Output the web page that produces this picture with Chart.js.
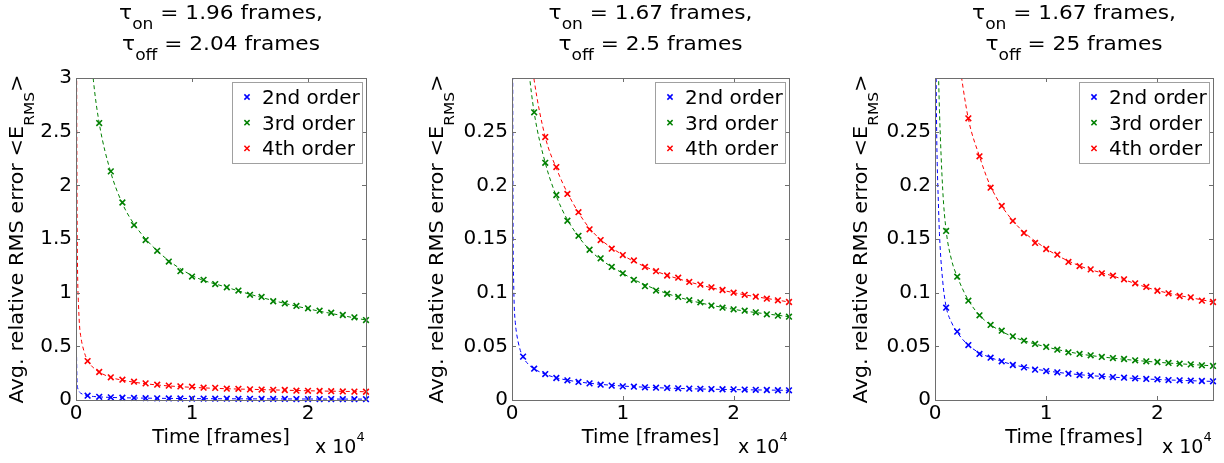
<!DOCTYPE html>
<html>
<head>
<meta charset="utf-8">
<script src="https://cdn.jsdelivr.net/npm/chart.js@4.4.1/dist/chart.umd.min.js"></script>
<style>
  html, body { margin: 0; padding: 0; background: #fff; }
  #wrap { position: relative; width: 1224px; height: 463px; overflow: hidden; }
  canvas { position: absolute; top: 0; }
</style>
</head>
<body>
<div id="wrap">
  <canvas id="c1" width="408" height="463" style="left:0px;width:408px;height:463px"></canvas>
  <canvas id="c2" width="420" height="463" style="left:408px;width:420px;height:463px"></canvas>
  <canvas id="c3" width="396" height="463" style="left:828px;width:396px;height:463px"></canvas>
</div>
<script>
const FONT = '"DejaVu Sans", sans-serif';
const colors = ['#0000ff', '#008000', '#ff0000'];

// sample times of the measured errors
const frames = [1000, 2000, 3000, 4000, 5000, 6000, 7000, 8000, 9000, 10000,
  11000, 12000, 13000, 14000, 15000, 16000, 17000, 18000, 19000, 20000,
  21000, 22000, 23000, 24000, 25000];
const fitFrames = [50, 70, 100, 150, 200, 300, 400, 700, 1000, 1500, 2000,
  3000, 4000, 5000, 7000, 10000, 13000, 16000, 20000, 25000];

const seriesNames = ['2nd order', '3rd order', '4th order'];
const tauOn = ['1.96', '1.67', '1.67'];
const tauOff = ['2.04', '2.5', '25'];

const xTickValues = [0, 10000, 20000];
const xTickLabels = ['0', '1', '2'];
const yTicksBig = [0, 0.5, 1, 1.5, 2, 2.5, 3];
const yLabelsBig = ['0', '0.5', '1', '1.5', '2', '2.5', '3'];
const yTicksSmall = [0, 0.05, 0.1, 0.15, 0.2, 0.25];
const yLabelsSmall = ['0', '0.05', '0.1', '0.15', '0.2', '0.25'];

// panel 1 : tau_on 1.96, tau_off 2.04
const blue1 = [0.040, 0.030, 0.025, 0.021, 0.019, 0.017, 0.016, 0.015, 0.014, 0.013, 0.013, 0.012, 0.012,
  0.011, 0.011, 0.010, 0.010, 0.010, 0.009, 0.009, 0.009, 0.009, 0.008, 0.008, 0.008];
const green1 = [null, 2.58, 2.13, 1.84, 1.63, 1.49, 1.39, 1.29, 1.20, 1.15, 1.12, 1.08, 1.05,
  1.02, 0.98, 0.96, 0.92, 0.90, 0.876, 0.854, 0.832, 0.813, 0.792, 0.770, 0.745];
const red1 = [0.363, 0.261, 0.211, 0.189, 0.171, 0.155, 0.143, 0.134, 0.127, 0.124, 0.115, 0.113, 0.105,
  0.104, 0.099, 0.097, 0.095, 0.093, 0.087, 0.086, 0.084, 0.082, 0.080, 0.078, 0.077];
const fitBlue1 = [0.40, 0.25, 0.15, 0.11, 0.09, 0.074, 0.064, 0.048, 0.040, 0.033, 0.029,
  0.024, 0.021, 0.019, 0.016, 0.013, 0.0115, 0.0105, 0.0093, 0.0082];
const fitGreen1 = [null, null, null, null, null, null, null, null, 3.65, 2.98, 2.58,
  2.12, 1.83, 1.64, 1.39, 1.16, 1.05, 0.955, 0.85, 0.745];
const fitRed1 = [3.3, 2.4, 1.6, 1.1, 0.93, 0.70, 0.60, 0.45, 0.37, 0.30, 0.26,
  0.21, 0.185, 0.166, 0.14, 0.118, 0.105, 0.097, 0.086, 0.077];

// panel 2 : tau_on 1.67, tau_off 2.5
const blue2 = [0.0404, 0.0292, 0.0242, 0.0205, 0.0183, 0.0168, 0.0155, 0.0143, 0.0134, 0.0127, 0.0124, 0.0118, 0.0115,
  0.0112, 0.0109, 0.0106, 0.0104, 0.0102, 0.0100, 0.0099, 0.0097, 0.0095, 0.0093, 0.0091, 0.0090];
const green2 = [null, 0.268, 0.221, 0.191, 0.167, 0.153, 0.140, 0.132, 0.124, 0.118, 0.112, 0.106, 0.102,
  0.099, 0.096, 0.093, 0.091, 0.088, 0.086, 0.0845, 0.0832, 0.0817, 0.0798, 0.0786, 0.0776];
const red2 = [null, null, 0.245, 0.217, 0.192, 0.175, 0.159, 0.149, 0.141, 0.135, 0.130, 0.124, 0.120,
  0.116, 0.114, 0.110, 0.1075, 0.105, 0.1025, 0.100, 0.098, 0.0963, 0.0944, 0.0929, 0.0913];
const fitBlue2 = [0.40, 0.26, 0.15, 0.11, 0.088, 0.072, 0.063, 0.048, 0.040, 0.033, 0.029,
  0.024, 0.0207, 0.0185, 0.0156, 0.013, 0.0115, 0.0105, 0.0097, 0.009];
const fitGreen2 = [null, null, null, null, null, null, null, null, 0.375, 0.31, 0.268,
  0.221, 0.19, 0.168, 0.14, 0.118, 0.103, 0.093, 0.0845, 0.0776];
const fitRed2 = [null, null, null, null, null, null, null, null, 0.41, 0.34, 0.298,
  0.245, 0.216, 0.193, 0.16, 0.135, 0.12, 0.11, 0.1, 0.0913];

// panel 3 : tau_on 1.67, tau_off 25
const blue3 = [0.086, 0.0637, 0.0512, 0.0429, 0.0394, 0.036, 0.0326, 0.0304, 0.0283, 0.027, 0.0258, 0.0245, 0.0233,
  0.0227, 0.0221, 0.0214, 0.0208, 0.0202, 0.0196, 0.0193, 0.0186, 0.0183, 0.018, 0.0177, 0.0174];
const green3 = [0.1575, 0.1149, 0.0925, 0.0789, 0.0699, 0.0646, 0.0593, 0.0553, 0.0522, 0.0494, 0.0469, 0.0444, 0.0429,
  0.0416, 0.0401, 0.0391, 0.0382, 0.037, 0.036, 0.0354, 0.0345, 0.0338, 0.0332, 0.0323, 0.0317];
const red3 = [null, null, 0.2624, 0.227, 0.1978, 0.1808, 0.1668, 0.1556, 0.1463, 0.1407, 0.1354, 0.1286, 0.1248,
  0.1217, 0.118, 0.1158, 0.1124, 0.1087, 0.1053, 0.1018, 0.0994, 0.0969, 0.0957, 0.0925, 0.0913];
const fitBlue3 = [0.45, 0.38, 0.31, 0.25, 0.22, 0.185, 0.155, 0.11, 0.087, 0.072, 0.063,
  0.051, 0.044, 0.0395, 0.033, 0.0272, 0.0236, 0.0213, 0.0191, 0.0173];
const fitGreen3 = [null, null, null, null, null, 0.31, 0.27, 0.195, 0.158, 0.13, 0.115,
  0.093, 0.079, 0.07, 0.059, 0.0495, 0.043, 0.039, 0.0352, 0.0318];
const fitRed3 = [null, null, null, null, null, null, null, null, null, null, 0.327,
  0.262, 0.227, 0.199, 0.167, 0.141, 0.125, 0.1155, 0.102, 0.0913];

// layout of each panel (pixels inside its own canvas)
const panels = [
  { id: 'c1', yAxisWidth: 76, padRight: 42, labelGap: 53, yMax: 3,
    yTicks: yTicksBig, yLabels: yLabelsBig,
    points: [blue1, green1, red1], fits: [fitBlue1, fitGreen1, fitRed1] },
  { id: 'c2', yAxisWidth: 104, padRight: 39, labelGap: 69, yMax: 0.3,
    yTicks: yTicksSmall, yLabels: yLabelsSmall,
    points: [blue2, green2, red2], fits: [fitBlue2, fitGreen2, fitRed2] },
  { id: 'c3', yAxisWidth: 107, padRight: 11, labelGap: 68, yMax: 0.3,
    yTicks: yTicksSmall, yLabels: yLabelsSmall,
    points: [blue3, green3, red3], fits: [fitBlue3, fitGreen3, fitRed3] }
];

// text with sub/superscripts, centred on cx, optionally stretched along the text
function drawRich(ctx, parts, cx, baseY, align, stretch) {
  const s = stretch || 1;
  let total = 0;
  parts.forEach(p => {
    ctx.font = p.size + 'px ' + FONT;
    p.w = ctx.measureText(p.text).width * s;
    total += p.w;
  });
  let x = align === 'left' ? cx : cx - total / 2;
  ctx.textAlign = 'left';
  ctx.textBaseline = 'alphabetic';
  ctx.fillStyle = '#000';
  parts.forEach(p => {
    ctx.save();
    ctx.font = p.size + 'px ' + FONT;
    ctx.translate(x, baseY + (p.dy || 0));
    ctx.scale(s, 1);
    ctx.fillText(p.text, 0, 0);
    ctx.restore();
    x += p.w;
  });
}

function drawCross(ctx, cx, cy, r, color) {
  ctx.strokeStyle = color;
  ctx.lineWidth = 1.5;
  ctx.beginPath();
  ctx.moveTo(cx - r, cy - r); ctx.lineTo(cx + r, cy + r);
  ctx.moveTo(cx - r, cy + r); ctx.lineTo(cx + r, cy - r);
  ctx.stroke();
}

function makeFramePlugin(p, idx) {
  return {
    id: 'matlabFrame' + idx,
    afterDatasetsDraw(chart) {
      const ctx = chart.ctx;
      const a = chart.chartArea;
      const xs = chart.scales.x, ys = chart.scales.y;
      ctx.save();
      // box
      ctx.strokeStyle = '#6e6e6e';
      ctx.lineWidth = 1;
      ctx.strokeRect(a.left + 0.5, a.top + 0.5, a.right - a.left, a.bottom - a.top);
      // inward ticks on all four sides
      ctx.beginPath();
      xTickValues.forEach(v => {
        const px = Math.round(xs.getPixelForValue(v)) + 0.5;
        ctx.moveTo(px, a.bottom); ctx.lineTo(px, a.bottom - 4);
        ctx.moveTo(px, a.top); ctx.lineTo(px, a.top + 4);
      });
      p.yTicks.forEach(v => {
        const py = Math.round(ys.getPixelForValue(v)) + 0.5;
        ctx.moveTo(a.left, py); ctx.lineTo(a.left + 4, py);
        ctx.moveTo(a.right, py); ctx.lineTo(a.right - 4, py);
      });
      ctx.stroke();
      // legend box
      const lw = 130, lh = 81;
      const lx = Math.round(a.right - 4 - lw), ly = Math.round(a.top + 4);
      ctx.fillStyle = '#fff';
      ctx.fillRect(lx, ly, lw, lh);
      ctx.strokeStyle = '#a0a0a0';
      ctx.strokeRect(lx + 0.5, ly + 0.5, lw, lh);
      seriesNames.forEach((name, i) => {
        const cy = ly + 15 + i * 25.7;
        drawCross(ctx, lx + 15, cy, 2.6, colors[i]);
        ctx.fillStyle = '#000';
        ctx.font = '20px ' + FONT;
        ctx.textAlign = 'left';
        ctx.textBaseline = 'alphabetic';
        ctx.fillText(name, lx + 30, cy + 7);
      });
      ctx.restore();
    },
    afterDraw(chart) {
      const ctx = chart.ctx;
      const a = chart.chartArea;
      const cx = (a.left + a.right) / 2;
      ctx.save();
      // two-line title
      drawRich(ctx, [
        { text: '\u03c4', size: 19 },
        { text: 'on', size: 15, dy: 10 },
        { text: ' = ' + tauOn[idx] + ' frames,', size: 19 }
      ], cx, 18.5, 'center', 1.14);
      drawRich(ctx, [
        { text: '\u03c4', size: 19 },
        { text: 'off', size: 15, dy: 10 },
        { text: ' = ' + tauOff[idx] + ' frames', size: 19 }
      ], cx, 49.5, 'center', 1.14);
      // x label and exponent
      drawRich(ctx, [{ text: 'Time [frames]', size: 19 }], cx, 443, 'center', 1.03);
      drawRich(ctx, [
        { text: 'x 10', size: 19 },
        { text: '4', size: 13, dy: -12 }
      ], a.right - 51, 453, 'left');
      // rotated y label
      ctx.translate(a.left - p.labelGap, (a.top + a.bottom) / 2);
      ctx.rotate(-Math.PI / 2);
      drawRich(ctx, [
        { text: 'Avg. relative RMS error <E', size: 19 },
        { text: 'RMS', size: 14, dy: 11 },
        { text: '>', size: 19 }
      ], 0, 0, 'center', 1.1);
      ctx.restore();
    }
  };
}

function makeChart(p, idx) {
  const datasets = [];
  p.fits.forEach((arr, i) => {
    datasets.push({
      label: seriesNames[i] + ' fit',
      data: fitFrames.map((t, k) => ({ x: t, y: arr[k] })),
      showLine: true,
      borderColor: colors[i],
      borderWidth: 1,
      borderDash: [4, 3],
      pointRadius: 0,
      cubicInterpolationMode: 'monotone',
      spanGaps: false,
      order: 2
    });
  });
  p.points.forEach((arr, i) => {
    datasets.push({
      label: seriesNames[i],
      data: frames.map((t, k) => ({ x: t, y: arr[k] })),
      showLine: false,
      pointStyle: 'crossRot',
      pointRadius: 4,
      pointBorderWidth: 1.6,
      borderColor: colors[i],
      backgroundColor: colors[i],
      clip: 8,
      order: 1
    });
  });

  return new Chart(document.getElementById(p.id), {
    type: 'scatter',
    data: { datasets },
    options: {
      responsive: false,
      animation: false,
      devicePixelRatio: 1,
      layout: { padding: { top: 78, right: p.padRight, left: 0, bottom: 0 } },
      plugins: { legend: { display: false }, tooltip: { enabled: false } },
      scales: {
        x: {
          type: 'linear', min: 0, max: 25000,
          grid: { display: false, drawTicks: false },
          border: { display: false },
          afterBuildTicks: (axis) => { axis.ticks = xTickValues.map(v => ({ value: v })); },
          afterFit: (axis) => { axis.height = 63; },
          ticks: {
            autoSkip: false, maxRotation: 0, padding: 2, color: '#000',
            font: { family: FONT, size: 20 },
            callback: (v, i) => xTickLabels[i]
          }
        },
        y: {
          type: 'linear', min: 0, max: p.yMax,
          grid: { display: false, drawTicks: false },
          border: { display: false },
          afterBuildTicks: (axis) => { axis.ticks = p.yTicks.map(v => ({ value: v })); },
          afterFit: (axis) => { axis.width = p.yAxisWidth; },
          ticks: {
            autoSkip: false, padding: 4, color: '#000',
            font: { family: FONT, size: 20 },
            callback: (v, i) => p.yLabels[i]
          }
        }
      }
    },
    plugins: [makeFramePlugin(p, idx)]
  });
}

panels.forEach((p, i) => makeChart(p, i));
</script>
</body>
</html>
